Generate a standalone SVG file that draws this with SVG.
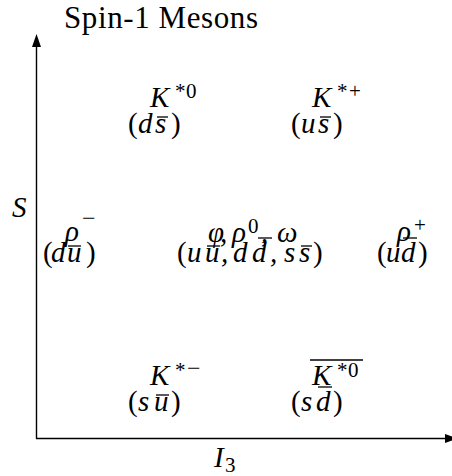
<svg xmlns="http://www.w3.org/2000/svg" width="452" height="476" viewBox="0 0 452 476">
<style>
.t{font-family:"Liberation Serif",serif;fill:#000}
.m{font-family:"Liberation Serif",serif;font-size:29px;font-style:italic;fill:#000}
.s{font-size:21px}
.bar{stroke:#000;stroke-width:1.3;fill:none}
.ax{stroke:#000;stroke-width:1.4;fill:none}
</style>
<defs>
<marker id="arr" markerUnits="userSpaceOnUse" markerWidth="14" markerHeight="10" refX="0" refY="4.5" orient="auto">
<path d="M0,0 L13,4.5 L0,9 Z" fill="#000"/>
</marker>
</defs>
<rect width="452" height="476" fill="#fff"/>
<g id="connectors">
<line class="ax" x1="36.5" y1="438.5" x2="36.5" y2="47" marker-end="url(#arr)"/>
<line class="ax" x1="36" y1="438.5" x2="445" y2="438.5" marker-end="url(#arr)"/>
</g>
<g id="title"><text class="t" x="64" y="28" font-size="31" textLength="194" lengthAdjust="spacing">Spin-1 Mesons</text></g>
<g id="axis-S"><text class="m" x="12" y="217">S</text></g>
<g id="axis-I3"><text class="m" x="214" y="467">I</text><text class="t s" x="225" y="472">3</text></g>

<g id="K-star-0">
<text class="m" x="150" y="107">K</text>
<text class="t s" x="175" y="98">*</text><text class="t s" x="186" y="98">0</text>
<text class="t" font-size="29" x="128" y="133">(</text>
<text class="m" x="138" y="133">d</text>
<text class="m" x="155" y="133">s</text>
<text class="t" font-size="29" x="171" y="133">)</text>
<line class="bar" x1="157" y1="117" x2="168" y2="117"/>
</g>

<g id="K-star-plus">
<text class="m" x="312" y="107">K</text>
<text class="t s" x="337" y="98">*</text><text class="t s" x="349" y="98">+</text>
<text class="t" font-size="29" x="291" y="133">(</text>
<text class="m" x="301" y="133">u</text>
<text class="m" x="318" y="133">s</text>
<text class="t" font-size="29" x="333" y="133">)</text>
<line class="bar" x1="320" y1="117" x2="331" y2="117"/>
</g>

<g id="rho-minus">
<text class="m" x="65" y="241">ρ</text>
<text class="t" font-size="24" x="82" y="226">−</text>
<text class="t" font-size="29" x="43" y="262">(</text>
<text class="m" x="51" y="262">d</text>
<text class="m" x="67" y="262">u</text>
<text class="t" font-size="29" x="86" y="262">)</text>
<line class="bar" x1="68" y1="246" x2="81" y2="246"/>
</g>

<g id="neutral">
<text class="m" x="208" y="242">φ</text>
<text class="m" x="220" y="242">,</text>
<text class="m" x="232" y="242">ρ</text>
<text class="t s" x="248" y="233">0</text>
<text class="m" x="261" y="242">,</text>
<text class="m" x="277" y="242">ω</text>
<text class="t" font-size="29" x="177" y="262">(</text>
<text class="m" x="187" y="262">u</text>
<text class="m" x="205" y="262">u</text>
<text class="m" x="221" y="262">,</text>
<text class="m" x="233" y="262">d</text>
<text class="m" x="252" y="262">d</text>
<text class="m" x="270" y="262">,</text>
<text class="m" x="284" y="262">s</text>
<text class="m" x="299" y="262">s</text>
<text class="t" font-size="29" x="313" y="262">)</text>
<line class="bar" x1="207" y1="246" x2="220" y2="246"/>
<line class="bar" x1="258" y1="238" x2="272" y2="238"/>
<line class="bar" x1="301" y1="246" x2="312" y2="246"/>
</g>

<g id="rho-plus">
<text class="m" x="397" y="241">ρ</text>
<text class="t s" x="414" y="232">+</text>
<text class="t" font-size="29" x="377" y="262">(</text>
<text class="m" x="386" y="262">u</text>
<text class="m" x="401" y="262">d</text>
<text class="t" font-size="29" x="418" y="262">)</text>
<line class="bar" x1="403" y1="238" x2="417" y2="238"/>
</g>

<g id="K-star-minus">
<text class="m" x="150" y="385">K</text>
<text class="t s" x="175" y="377">*</text><text class="t" font-size="24" x="187" y="376">−</text>
<text class="t" font-size="29" x="128" y="411">(</text>
<text class="m" x="138" y="411">s</text>
<text class="m" x="154" y="411">u</text>
<text class="t" font-size="29" x="171" y="411">)</text>
<line class="bar" x1="156" y1="395" x2="169" y2="395"/>
</g>

<g id="K-star-0-bar">
<line class="bar" x1="310" y1="360" x2="363" y2="360"/>
<text class="m" x="312" y="385">K</text>
<text class="t s" x="337" y="377">*</text><text class="t s" x="348" y="377">0</text>
<text class="t" font-size="29" x="291" y="411">(</text>
<text class="m" x="301" y="411">s</text>
<text class="m" x="316" y="411">d</text>
<text class="t" font-size="29" x="333" y="411">)</text>
<line class="bar" x1="318" y1="387" x2="332" y2="387"/>
</g>
</svg>
